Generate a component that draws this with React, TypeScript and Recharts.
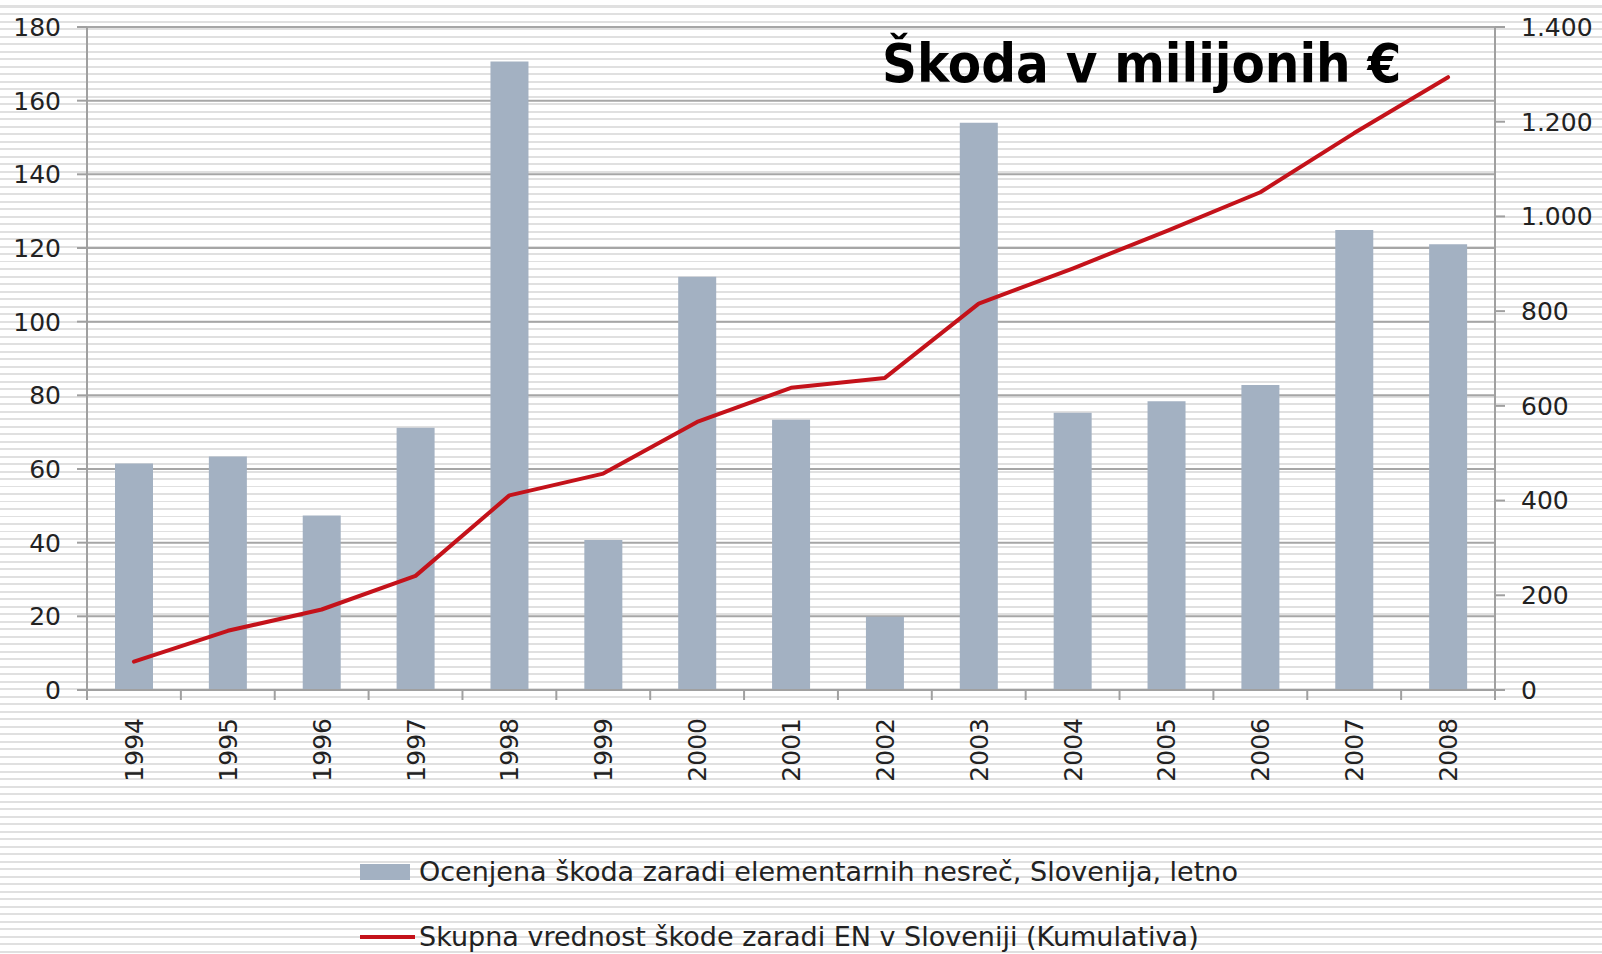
import React from 'react';
import { ComposedChart, Bar, Line, XAxis, YAxis, CartesianGrid, Legend } from 'recharts';

const years = ['1994', '1995', '1996', '1997', '1998', '1999', '2000', '2001', '2002', '2003', '2004', '2005', '2006', '2007', '2008'];
const annualDamage = [61.5, 63.4, 47.4, 71.2, 170.6, 40.7, 112.2, 73.4, 19.9, 154, 75.3, 78.4, 82.8, 124.9, 121];
const cumulativeDamage = [60, 125, 170, 241, 411, 457, 566, 638, 659, 816, 890, 969, 1051, 1176, 1294];
const leftTicks = [0, 20, 40, 60, 80, 100, 120, 140, 160, 180];
const rightTicks = [0, 200, 400, 600, 800, 1000, 1200, 1400];
const annualName = 'Ocenjena škoda zaradi elementarnih nesreč, Slovenija, letno';
const cumulativeName = 'Skupna vrednost škode zaradi EN v Sloveniji (Kumulativa)';
const title = 'Škoda v milijonih €';

const data = years.map((y, i) => ({ year: y, annual: annualDamage[i], cumulative: cumulativeDamage[i] }));

const BAR = '#a3b1c2';
const RED = '#c4121a';
const AXIS = '#a0a0a0';
const FONT = '"DejaVu Sans", Verdana, sans-serif';

const fmtThousands = (v: number) => String(v).replace(/\B(?=(\d{3})+(?!\d))/g, '.');

const XTick = (props: any) => {
  const { x, y, payload, index, width } = props;
  const step = width / years.length;
  const axisY = y - 10;
  return (
    <g>
      <line x1={x - step / 2} y1={axisY} x2={x - step / 2} y2={axisY + 10} stroke={AXIS} strokeWidth={2} />
      {index === years.length - 1 && (
        <line x1={x + step / 2} y1={axisY} x2={x + step / 2} y2={axisY + 10} stroke={AXIS} strokeWidth={2} />
      )}
      <g transform={`translate(${x},${y + 18})`}>
        <text transform="rotate(-90)" textAnchor="end" dy="0.36em" fill="#222" fontSize={25} fontFamily={FONT}>
          {payload.value}
        </text>
      </g>
    </g>
  );
};

const LegendContent = (props: any) => {
  const payload = props.payload || [];
  const bar = payload.find((p: any) => p.dataKey === 'annual');
  const line = payload.find((p: any) => p.dataKey === 'cumulative');
  const textStyle: React.CSSProperties = { fontFamily: FONT, fontSize: 27, color: '#222', whiteSpace: 'nowrap', lineHeight: '30px' };
  return (
    <div style={{ position: 'relative', width: 1602, height: 150 }}>
      <div style={{ position: 'absolute', left: 360, top: 53, display: 'flex', alignItems: 'center' }}>
        <div style={{ width: 50, height: 16, background: bar ? bar.color : BAR, marginRight: 9 }} />
        <span style={textStyle}>{bar ? bar.value : annualName}</span>
      </div>
      <div style={{ position: 'absolute', left: 360, top: 118, display: 'flex', alignItems: 'center' }}>
        <div style={{ width: 55, height: 4, background: line ? line.color : RED, marginRight: 4 }} />
        <span style={textStyle}>{line ? line.value : cumulativeName}</span>
      </div>
    </div>
  );
};

export default function App() {
  return (
    <div
      style={{
        position: 'absolute',
        left: 0,
        top: 0,
        width: 1602,
        height: 954,
        backgroundColor: '#ffffff',
        backgroundImage: 'repeating-linear-gradient(to bottom, #ffffff 0px, #ffffff 5.5px, #e0e0e0 5.5px, #e0e0e0 7.5px)',
        overflow: 'hidden',
      }}
    >
      <ComposedChart width={1602} height={954} data={data} margin={{ top: 27, right: 0, bottom: 0, left: 0 }}>
        <CartesianGrid vertical={false} horizontal stroke="#a6a6a6" strokeWidth={2} yAxisId="left" />
        <XAxis
          dataKey="year"
          height={114}
          tickSize={10}
          tickMargin={0}
          tickLine={false}
          axisLine={{ stroke: AXIS, strokeWidth: 2 }}
          tick={<XTick />}
          interval={0}
        />
        <YAxis
          yAxisId="left"
          domain={[0, 180]}
          ticks={leftTicks}
          width={87}
          tickSize={10}
          tickMargin={16}
          axisLine={{ stroke: AXIS, strokeWidth: 2 }}
          tickLine={{ stroke: AXIS, strokeWidth: 2 }}
          tick={{ fill: '#222', fontSize: 25, fontFamily: FONT }}
          interval={0}
        />
        <YAxis
          yAxisId="right"
          orientation="right"
          domain={[0, 1400]}
          ticks={rightTicks}
          width={107}
          tickSize={10}
          tickMargin={16}
          axisLine={{ stroke: AXIS, strokeWidth: 2 }}
          tickLine={{ stroke: AXIS, strokeWidth: 2 }}
          tick={{ fill: '#222', fontSize: 25, fontFamily: FONT }}
          tickFormatter={fmtThousands}
          interval={0}
        />
        <Legend
          verticalAlign="bottom"
          content={<LegendContent />}
          wrapperStyle={{ left: 0, bottom: 0, width: 1602, height: 150 }}
        />
        <Bar yAxisId="left" dataKey="annual" name={annualName} fill={BAR} barSize={38} isAnimationActive={false} />
        <Line
          yAxisId="right"
          dataKey="cumulative"
          name={cumulativeName}
          type="linear"
          stroke={RED}
          strokeWidth={4}
          strokeLinejoin="round"
          strokeLinecap="round"
          dot={false}
          activeDot={false}
          isAnimationActive={false}
        />
      </ComposedChart>
      <div
        style={{
          position: 'absolute',
          left: 882,
          top: 32,
          fontFamily: '"DejaVu Sans Condensed", "DejaVu Sans", sans-serif',
          fontWeight: 'bold',
          fontSize: 54,
          lineHeight: '64px',
          color: '#000',
          whiteSpace: 'nowrap',
        }}
      >
        {title}
      </div>
    </div>
  );
}
